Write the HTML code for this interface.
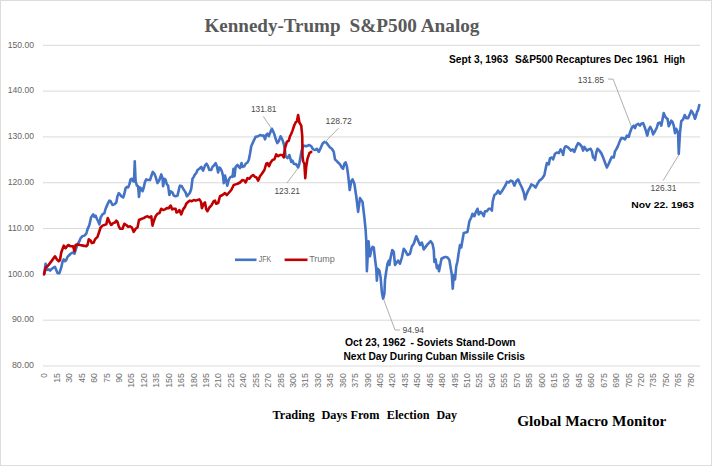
<!DOCTYPE html>
<html><head><meta charset="utf-8"><style>
html,body{margin:0;padding:0;background:#fff;}
svg{display:block;}
text{white-space:pre;}
.yl{font-family:"Liberation Sans",sans-serif;font-size:9.9px;fill:#666666;}
.ax{font-family:"Liberation Sans",sans-serif;font-size:9.7px;fill:#707070;}
.dl{font-family:"Liberation Sans",sans-serif;font-size:9px;fill:#4a4a4a;}
.title{font-family:"Liberation Serif",serif;font-weight:bold;font-size:18.9px;fill:#595959;}
.bn{font-family:"Liberation Sans",sans-serif;font-weight:bold;font-size:10px;fill:#000;}
.bn2{font-family:"Liberation Sans",sans-serif;font-weight:bold;font-size:9.6px;fill:#000;}
.sb1{font-family:"Liberation Serif",serif;font-weight:bold;font-size:13px;fill:#000;}
.sb2{font-family:"Liberation Serif",serif;font-weight:bold;font-size:15.5px;fill:#000;}
</style></head><body>
<svg width="712" height="466" viewBox="0 0 712 466">
<rect x="0.5" y="0.5" width="711" height="465" fill="#fff" stroke="#dcdcdc" stroke-width="1"/>
<line x1="43" y1="366.00" x2="700" y2="366.00" stroke="#d9d9d9" stroke-width="1"/>
<text x="34" y="368.20" text-anchor="end" class="yl" textLength="22.1" lengthAdjust="spacingAndGlyphs">80.00</text>
<line x1="43" y1="320.18" x2="700" y2="320.18" stroke="#d9d9d9" stroke-width="1"/>
<text x="34" y="322.38" text-anchor="end" class="yl" textLength="22.1" lengthAdjust="spacingAndGlyphs">90.00</text>
<line x1="43" y1="274.37" x2="700" y2="274.37" stroke="#d9d9d9" stroke-width="1"/>
<text x="34" y="276.57" text-anchor="end" class="yl" textLength="26.3" lengthAdjust="spacingAndGlyphs">100.00</text>
<line x1="43" y1="228.56" x2="700" y2="228.56" stroke="#d9d9d9" stroke-width="1"/>
<text x="34" y="230.76" text-anchor="end" class="yl" textLength="26.3" lengthAdjust="spacingAndGlyphs">110.00</text>
<line x1="43" y1="182.74" x2="700" y2="182.74" stroke="#d9d9d9" stroke-width="1"/>
<text x="34" y="184.94" text-anchor="end" class="yl" textLength="26.3" lengthAdjust="spacingAndGlyphs">120.00</text>
<line x1="43" y1="136.93" x2="700" y2="136.93" stroke="#d9d9d9" stroke-width="1"/>
<text x="34" y="139.13" text-anchor="end" class="yl" textLength="26.3" lengthAdjust="spacingAndGlyphs">130.00</text>
<line x1="43" y1="91.11" x2="700" y2="91.11" stroke="#d9d9d9" stroke-width="1"/>
<text x="34" y="93.31" text-anchor="end" class="yl" textLength="26.3" lengthAdjust="spacingAndGlyphs">140.00</text>
<line x1="43" y1="45.30" x2="700" y2="45.30" stroke="#d9d9d9" stroke-width="1"/>
<text x="34" y="47.50" text-anchor="end" class="yl" textLength="26.3" lengthAdjust="spacingAndGlyphs">150.00</text>
<text transform="translate(47.40,373.2) rotate(-90)" text-anchor="end" class="ax" textLength="4.6" lengthAdjust="spacingAndGlyphs">0</text>
<text transform="translate(59.83,373.2) rotate(-90)" text-anchor="end" class="ax" textLength="9.6" lengthAdjust="spacingAndGlyphs">15</text>
<text transform="translate(72.26,373.2) rotate(-90)" text-anchor="end" class="ax" textLength="9.6" lengthAdjust="spacingAndGlyphs">30</text>
<text transform="translate(84.69,373.2) rotate(-90)" text-anchor="end" class="ax" textLength="9.6" lengthAdjust="spacingAndGlyphs">45</text>
<text transform="translate(97.12,373.2) rotate(-90)" text-anchor="end" class="ax" textLength="9.6" lengthAdjust="spacingAndGlyphs">60</text>
<text transform="translate(109.55,373.2) rotate(-90)" text-anchor="end" class="ax" textLength="9.6" lengthAdjust="spacingAndGlyphs">75</text>
<text transform="translate(121.98,373.2) rotate(-90)" text-anchor="end" class="ax" textLength="9.6" lengthAdjust="spacingAndGlyphs">90</text>
<text transform="translate(134.41,373.2) rotate(-90)" text-anchor="end" class="ax" textLength="14.6" lengthAdjust="spacingAndGlyphs">105</text>
<text transform="translate(146.84,373.2) rotate(-90)" text-anchor="end" class="ax" textLength="14.6" lengthAdjust="spacingAndGlyphs">120</text>
<text transform="translate(159.27,373.2) rotate(-90)" text-anchor="end" class="ax" textLength="14.6" lengthAdjust="spacingAndGlyphs">135</text>
<text transform="translate(171.70,373.2) rotate(-90)" text-anchor="end" class="ax" textLength="14.6" lengthAdjust="spacingAndGlyphs">150</text>
<text transform="translate(184.13,373.2) rotate(-90)" text-anchor="end" class="ax" textLength="14.6" lengthAdjust="spacingAndGlyphs">165</text>
<text transform="translate(196.56,373.2) rotate(-90)" text-anchor="end" class="ax" textLength="14.6" lengthAdjust="spacingAndGlyphs">180</text>
<text transform="translate(208.99,373.2) rotate(-90)" text-anchor="end" class="ax" textLength="14.6" lengthAdjust="spacingAndGlyphs">195</text>
<text transform="translate(221.42,373.2) rotate(-90)" text-anchor="end" class="ax" textLength="14.6" lengthAdjust="spacingAndGlyphs">210</text>
<text transform="translate(233.85,373.2) rotate(-90)" text-anchor="end" class="ax" textLength="14.6" lengthAdjust="spacingAndGlyphs">225</text>
<text transform="translate(246.28,373.2) rotate(-90)" text-anchor="end" class="ax" textLength="14.6" lengthAdjust="spacingAndGlyphs">240</text>
<text transform="translate(258.71,373.2) rotate(-90)" text-anchor="end" class="ax" textLength="14.6" lengthAdjust="spacingAndGlyphs">255</text>
<text transform="translate(271.14,373.2) rotate(-90)" text-anchor="end" class="ax" textLength="14.6" lengthAdjust="spacingAndGlyphs">270</text>
<text transform="translate(283.57,373.2) rotate(-90)" text-anchor="end" class="ax" textLength="14.6" lengthAdjust="spacingAndGlyphs">285</text>
<text transform="translate(296.00,373.2) rotate(-90)" text-anchor="end" class="ax" textLength="14.6" lengthAdjust="spacingAndGlyphs">300</text>
<text transform="translate(308.43,373.2) rotate(-90)" text-anchor="end" class="ax" textLength="14.6" lengthAdjust="spacingAndGlyphs">315</text>
<text transform="translate(320.86,373.2) rotate(-90)" text-anchor="end" class="ax" textLength="14.6" lengthAdjust="spacingAndGlyphs">330</text>
<text transform="translate(333.29,373.2) rotate(-90)" text-anchor="end" class="ax" textLength="14.6" lengthAdjust="spacingAndGlyphs">345</text>
<text transform="translate(345.72,373.2) rotate(-90)" text-anchor="end" class="ax" textLength="14.6" lengthAdjust="spacingAndGlyphs">360</text>
<text transform="translate(358.15,373.2) rotate(-90)" text-anchor="end" class="ax" textLength="14.6" lengthAdjust="spacingAndGlyphs">375</text>
<text transform="translate(370.58,373.2) rotate(-90)" text-anchor="end" class="ax" textLength="14.6" lengthAdjust="spacingAndGlyphs">390</text>
<text transform="translate(383.01,373.2) rotate(-90)" text-anchor="end" class="ax" textLength="14.6" lengthAdjust="spacingAndGlyphs">405</text>
<text transform="translate(395.44,373.2) rotate(-90)" text-anchor="end" class="ax" textLength="14.6" lengthAdjust="spacingAndGlyphs">420</text>
<text transform="translate(407.87,373.2) rotate(-90)" text-anchor="end" class="ax" textLength="14.6" lengthAdjust="spacingAndGlyphs">435</text>
<text transform="translate(420.30,373.2) rotate(-90)" text-anchor="end" class="ax" textLength="14.6" lengthAdjust="spacingAndGlyphs">450</text>
<text transform="translate(432.73,373.2) rotate(-90)" text-anchor="end" class="ax" textLength="14.6" lengthAdjust="spacingAndGlyphs">465</text>
<text transform="translate(445.16,373.2) rotate(-90)" text-anchor="end" class="ax" textLength="14.6" lengthAdjust="spacingAndGlyphs">480</text>
<text transform="translate(457.59,373.2) rotate(-90)" text-anchor="end" class="ax" textLength="14.6" lengthAdjust="spacingAndGlyphs">495</text>
<text transform="translate(470.02,373.2) rotate(-90)" text-anchor="end" class="ax" textLength="14.6" lengthAdjust="spacingAndGlyphs">510</text>
<text transform="translate(482.45,373.2) rotate(-90)" text-anchor="end" class="ax" textLength="14.6" lengthAdjust="spacingAndGlyphs">525</text>
<text transform="translate(494.88,373.2) rotate(-90)" text-anchor="end" class="ax" textLength="14.6" lengthAdjust="spacingAndGlyphs">540</text>
<text transform="translate(507.31,373.2) rotate(-90)" text-anchor="end" class="ax" textLength="14.6" lengthAdjust="spacingAndGlyphs">555</text>
<text transform="translate(519.74,373.2) rotate(-90)" text-anchor="end" class="ax" textLength="14.6" lengthAdjust="spacingAndGlyphs">570</text>
<text transform="translate(532.17,373.2) rotate(-90)" text-anchor="end" class="ax" textLength="14.6" lengthAdjust="spacingAndGlyphs">585</text>
<text transform="translate(544.60,373.2) rotate(-90)" text-anchor="end" class="ax" textLength="14.6" lengthAdjust="spacingAndGlyphs">600</text>
<text transform="translate(557.03,373.2) rotate(-90)" text-anchor="end" class="ax" textLength="14.6" lengthAdjust="spacingAndGlyphs">615</text>
<text transform="translate(569.46,373.2) rotate(-90)" text-anchor="end" class="ax" textLength="14.6" lengthAdjust="spacingAndGlyphs">630</text>
<text transform="translate(581.89,373.2) rotate(-90)" text-anchor="end" class="ax" textLength="14.6" lengthAdjust="spacingAndGlyphs">645</text>
<text transform="translate(594.32,373.2) rotate(-90)" text-anchor="end" class="ax" textLength="14.6" lengthAdjust="spacingAndGlyphs">660</text>
<text transform="translate(606.75,373.2) rotate(-90)" text-anchor="end" class="ax" textLength="14.6" lengthAdjust="spacingAndGlyphs">675</text>
<text transform="translate(619.18,373.2) rotate(-90)" text-anchor="end" class="ax" textLength="14.6" lengthAdjust="spacingAndGlyphs">690</text>
<text transform="translate(631.61,373.2) rotate(-90)" text-anchor="end" class="ax" textLength="14.6" lengthAdjust="spacingAndGlyphs">705</text>
<text transform="translate(644.04,373.2) rotate(-90)" text-anchor="end" class="ax" textLength="14.6" lengthAdjust="spacingAndGlyphs">720</text>
<text transform="translate(656.47,373.2) rotate(-90)" text-anchor="end" class="ax" textLength="14.6" lengthAdjust="spacingAndGlyphs">735</text>
<text transform="translate(668.90,373.2) rotate(-90)" text-anchor="end" class="ax" textLength="14.6" lengthAdjust="spacingAndGlyphs">750</text>
<text transform="translate(681.33,373.2) rotate(-90)" text-anchor="end" class="ax" textLength="14.6" lengthAdjust="spacingAndGlyphs">765</text>
<text transform="translate(693.76,373.2) rotate(-90)" text-anchor="end" class="ax" textLength="14.6" lengthAdjust="spacingAndGlyphs">780</text>
<text x="204.5" y="31.5" class="title" textLength="136" lengthAdjust="spacingAndGlyphs">Kennedy-Trump</text>
<text x="349.5" y="31.5" class="title" textLength="130" lengthAdjust="spacingAndGlyphs">S&amp;P500 Analog</text>
<polyline points="44.38,273.75 45.62,263.75 46.88,270.00 48.75,269.38 50.00,270.62 51.88,268.75 53.75,267.50 55.00,266.88 56.25,270.00 57.50,273.12 59.38,273.12 61.25,267.50 62.50,261.88 63.75,259.38 65.00,261.25 66.25,260.00 67.50,256.88 69.38,255.00 70.62,253.75 72.50,252.50 74.38,253.75 75.62,250.00 77.50,244.38 79.38,241.25 80.62,238.12 82.50,236.25 84.38,235.62 86.25,233.75 87.50,229.38 89.38,225.00 91.00,217.50 93.12,214.38 94.38,216.88 95.62,215.62 96.88,218.75 98.12,221.25 99.38,224.38 100.62,217.50 102.50,214.38 104.38,213.12 105.62,208.75 107.50,204.38 109.38,200.62 110.62,201.25 112.50,205.00 114.38,204.38 116.25,202.50 117.50,196.25 118.75,193.12 120.00,194.38 121.25,196.25 123.12,197.50 124.38,193.75 125.62,188.12 126.88,186.88 128.12,187.50 129.38,184.38 130.62,179.38 131.88,178.75 133.12,181.25 134.00,181.50 134.75,161.25 135.62,181.25 136.88,185.62 138.12,186.25 139.00,196.88 140.00,187.50 141.25,188.75 142.50,191.25 143.75,187.50 145.00,181.88 146.25,179.38 148.12,180.00 150.00,180.00 151.25,176.25 152.75,171.88 154.38,173.75 155.62,176.88 157.50,183.12 159.38,180.00 161.25,174.38 162.50,178.12 163.12,186.25 164.38,178.75 165.62,180.00 166.88,184.38 168.12,185.62 169.38,195.00 170.62,191.25 172.50,192.50 173.75,195.62 175.62,196.25 177.50,195.62 179.38,187.50 180.00,185.62 181.88,186.25 183.12,188.75 184.38,190.62 185.62,192.50 186.88,196.25 188.12,195.00 190.00,192.50 191.25,188.75 192.50,178.75 193.75,176.88 195.00,174.38 196.25,173.12 197.50,170.00 199.38,168.75 201.25,166.88 203.12,170.62 205.00,165.62 206.50,163.75 207.75,165.62 209.38,170.00 211.25,170.00 212.50,166.88 214.38,165.00 215.62,163.12 216.88,166.25 218.12,172.50 219.38,167.50 220.62,168.75 221.88,171.25 223.12,176.25 223.75,183.12 225.00,175.62 226.00,179.38 227.25,185.62 228.75,180.00 230.00,177.50 231.88,176.25 232.50,176.88 233.50,168.75 234.50,176.25 235.62,166.88 237.50,165.00 238.75,166.88 240.00,168.12 241.50,163.12 242.50,166.88 244.38,166.25 245.62,163.75 247.50,162.50 248.75,160.00 250.00,153.75 251.25,146.25 253.75,140.62 255.62,136.88 258.12,136.25 260.00,135.00 261.88,135.62 263.75,135.62 265.00,139.38 266.25,135.00 267.50,133.75 268.75,136.25 270.00,133.12 271.88,128.75 273.12,131.25 274.38,134.38 275.62,138.75 277.25,143.12 278.75,141.25 280.62,136.25 282.25,139.38 283.75,143.75 284.75,148.75 285.62,156.25 287.50,158.12 289.38,155.00 291.25,161.88 292.50,160.62 293.75,163.75 296.25,164.38 298.12,167.50 299.38,163.75 300.62,156.25 301.50,151.25 303.12,145.62 306.25,146.25 309.38,145.00 311.25,146.25 313.12,149.38 315.00,150.00 316.88,148.75 318.75,151.88 320.62,148.12 322.50,143.75 324.38,141.88 326.25,142.50 328.12,145.00 330.00,147.50 331.88,148.75 333.75,151.88 335.00,159.38 336.25,160.62 338.12,162.50 340.00,164.38 341.88,167.50 343.12,168.75 344.38,163.75 345.62,162.50 346.88,166.25 348.12,175.00 349.75,190.00 351.25,181.25 352.50,179.38 354.38,183.75 356.25,196.25 358.12,211.88 360.00,198.12 362.50,201.88 364.38,217.50 365.62,230.00 366.25,240.00 366.88,271.25 368.50,241.25 370.00,256.25 371.25,250.00 372.50,246.88 373.75,247.50 375.00,258.75 376.25,268.75 376.88,280.62 377.75,268.75 379.38,270.62 380.62,277.50 381.88,292.50 383.12,298.75 384.38,293.75 385.00,280.00 386.25,271.25 387.50,263.75 388.75,260.62 389.38,265.00 390.62,257.50 392.25,250.00 393.75,251.88 395.00,265.00 396.25,263.12 398.12,260.62 400.00,263.75 401.88,257.50 403.75,248.75 405.62,251.25 407.50,255.00 410.00,253.75 411.88,246.25 413.75,243.75 416.25,236.25 418.12,240.62 420.00,245.00 421.88,242.50 423.75,249.38 425.62,246.88 427.50,244.38 430.62,241.25 432.50,243.75 433.75,250.00 434.38,261.88 435.62,259.38 436.88,268.12 438.12,265.62 439.00,271.25 440.00,266.25 441.50,258.75 443.75,257.50 445.62,256.88 447.50,257.50 449.38,260.00 450.62,267.50 451.88,275.00 452.75,288.75 453.75,275.00 455.00,279.38 456.25,266.25 457.50,261.25 458.75,252.50 460.00,245.00 461.25,247.50 462.50,240.00 463.75,233.00 467.50,231.88 469.38,221.25 471.25,217.50 472.50,213.75 474.38,216.25 475.62,212.50 477.50,208.75 478.75,214.38 480.62,211.88 482.50,213.75 483.75,216.25 485.00,211.25 486.88,211.25 488.75,208.75 490.62,208.75 491.88,210.62 492.75,201.25 494.38,195.00 496.25,193.75 498.12,190.62 500.00,193.75 501.88,191.25 503.75,188.12 505.62,185.00 506.88,181.88 508.75,182.50 510.62,180.62 512.50,181.25 514.38,185.62 516.25,181.25 518.12,179.38 520.00,183.75 521.88,187.50 523.75,192.50 525.00,199.38 526.25,195.00 528.12,190.62 530.00,187.50 531.25,184.38 533.75,185.62 535.62,187.50 537.50,183.75 539.38,180.62 541.25,179.38 542.50,178.00 544.38,175.00 545.62,168.75 546.88,163.12 548.75,164.38 550.00,158.12 551.88,157.50 553.12,159.38 555.00,153.75 556.88,152.50 558.75,153.12 560.62,149.38 562.25,151.88 563.12,155.00 564.38,148.12 565.62,146.25 567.50,146.88 569.38,148.75 571.00,150.62 572.50,149.38 574.38,151.88 576.25,146.88 578.12,143.12 580.00,144.38 581.88,146.88 583.12,150.62 584.38,146.88 585.62,148.75 586.88,150.62 588.75,149.38 590.62,148.75 591.88,151.25 593.12,157.50 594.38,157.50 595.00,160.00 596.25,152.50 597.50,148.75 599.38,150.62 601.25,153.12 603.12,157.50 605.00,162.50 606.88,167.50 608.75,163.75 610.62,159.38 611.88,156.88 613.75,157.50 615.00,151.25 616.25,149.38 618.12,145.62 620.00,140.62 621.25,138.12 623.12,138.12 625.00,139.38 626.88,135.62 628.75,136.88 630.00,132.50 631.88,127.50 633.75,125.62 635.00,128.12 636.25,125.00 638.12,123.75 640.00,125.62 641.25,123.75 643.12,123.12 644.38,126.25 645.62,130.00 647.25,135.62 648.75,129.38 650.25,126.88 651.88,130.00 653.12,134.38 655.00,131.25 656.88,127.50 658.12,123.12 660.00,122.50 661.25,125.62 662.50,119.38 663.75,113.12 665.00,116.25 666.25,118.12 667.50,118.75 668.75,126.25 670.00,123.75 671.25,120.62 672.50,121.88 673.75,125.62 675.00,133.12 676.25,128.75 677.50,131.25 678.12,133.75 678.75,153.80 680.00,132.50 681.25,121.25 683.12,119.38 684.75,115.00 686.25,118.12 688.12,118.12 690.00,113.75 691.25,110.62 692.50,112.50 693.75,115.00 695.00,118.75 696.25,115.00 697.00,112.00 698.10,110.00 699.30,105.00" fill="none" stroke="#4472c4" stroke-width="2.6" stroke-linejoin="round" stroke-linecap="round"/>
<polyline points="44.00,274.38 45.62,267.50 47.50,266.25 50.00,263.12 51.88,260.62 55.00,256.25 56.88,259.38 58.75,261.25 60.00,260.00 61.25,252.50 63.75,245.62 65.62,248.12 68.12,245.00 70.62,246.25 73.12,246.25 74.38,251.25 75.62,245.00 77.50,244.38 80.00,245.00 83.12,245.62 86.25,246.25 87.50,245.00 88.75,239.38 90.62,240.62 91.88,243.12 93.75,242.50 95.00,239.38 97.50,236.88 99.38,231.25 100.62,227.50 102.50,225.62 104.38,225.00 106.25,224.38 107.75,218.12 109.38,221.88 111.25,225.00 113.12,223.12 115.00,222.50 116.25,220.62 117.50,221.88 118.75,226.25 120.00,228.75 122.50,228.75 124.38,223.75 126.25,225.00 128.12,226.88 130.00,226.25 131.88,227.50 133.75,231.88 135.62,228.75 137.50,227.50 139.00,220.00 141.88,218.75 143.75,218.12 145.62,216.88 147.50,216.25 149.38,217.50 151.25,216.25 152.50,225.62 153.75,221.25 155.62,216.25 157.50,213.75 159.38,213.12 161.25,208.75 163.12,210.00 165.00,209.38 166.88,208.12 168.75,208.12 170.62,205.62 172.25,209.38 173.75,208.75 175.62,208.75 176.50,212.50 178.12,211.88 179.38,210.00 181.25,214.38 183.12,209.38 185.00,206.88 186.25,203.75 188.12,201.88 190.00,200.62 191.88,201.25 193.75,200.00 195.62,200.62 197.50,200.00 199.38,199.38 201.00,201.88 201.88,208.12 203.75,203.75 205.00,202.50 206.25,209.38 207.50,211.25 209.38,207.50 211.25,205.62 213.75,201.25 215.00,200.62 216.25,203.75 218.12,203.12 220.00,196.25 222.50,195.00 225.00,193.12 226.88,195.00 231.25,190.00 233.75,185.00 235.62,184.38 237.50,183.75 240.00,182.50 242.50,180.00 244.38,180.62 245.62,182.50 247.50,178.12 249.38,178.75 251.25,176.25 253.12,175.00 255.00,176.88 256.50,177.50 258.12,180.62 260.00,176.25 261.88,173.75 264.38,170.00 266.25,163.75 267.50,163.12 269.00,166.25 270.62,162.50 272.50,160.00 274.38,159.38 276.25,154.38 278.12,156.25 280.00,155.00 282.50,155.00 283.75,157.50 285.00,148.12 286.88,141.88 288.75,140.62 290.00,136.25 291.25,133.75 292.50,130.62 294.38,125.00 295.62,122.50 296.88,121.25 298.12,115.00 299.38,122.50 301.25,125.62 302.25,136.25 302.50,156.25 303.12,161.25 304.38,163.75 305.25,178.12 306.25,166.25 307.50,158.75 309.38,153.12 311.25,151.88" fill="none" stroke="#c00000" stroke-width="2.6" stroke-linejoin="round" stroke-linecap="round"/>
<line x1="235" y1="259.8" x2="256.5" y2="259.8" stroke="#4472c4" stroke-width="2.6"/>
<text x="258.8" y="261.8" class="ax" textLength="12.5" lengthAdjust="spacingAndGlyphs">JFK</text>
<line x1="284.6" y1="259.8" x2="307.5" y2="259.8" stroke="#c00000" stroke-width="2.6"/>
<text x="309.2" y="261.8" class="ax" textLength="25.6" lengthAdjust="spacingAndGlyphs">Trump</text>
<polyline points="263.25,116.4 271.35,128.3" stroke="#a6a6a6" stroke-width="0.9" fill="none"/>
<polyline points="338.75,128.1 325,141.9" stroke="#a6a6a6" stroke-width="0.9" fill="none"/>
<polyline points="286.9,183.1 298.1,168.1" stroke="#a6a6a6" stroke-width="0.9" fill="none"/>
<polyline points="608.1,79.1 613.1,79.1 631.25,126.25" stroke="#a6a6a6" stroke-width="0.9" fill="none"/>
<polyline points="678.75,155 663.1,180.6" stroke="#a6a6a6" stroke-width="0.9" fill="none"/>
<polyline points="383.5,299 395,330 400,330" stroke="#a6a6a6" stroke-width="0.9" fill="none"/>
<text x="250.9" y="112.2" class="dl" textLength="25.6" lengthAdjust="spacingAndGlyphs">131.81</text>
<text x="325.6" y="123.75" class="dl" textLength="26.3" lengthAdjust="spacingAndGlyphs">128.72</text>
<text x="274.4" y="193.75" class="dl" textLength="25.6" lengthAdjust="spacingAndGlyphs">123.21</text>
<text x="577.75" y="82.9" class="dl" textLength="26.2" lengthAdjust="spacingAndGlyphs">131.85</text>
<text x="650.6" y="191.25" class="dl" textLength="25.9" lengthAdjust="spacingAndGlyphs">126.31</text>
<text x="402.5" y="333.1" class="dl" textLength="21.5" lengthAdjust="spacingAndGlyphs">94.94</text>
<text x="449" y="62.75" class="bn" textLength="59.1" lengthAdjust="spacingAndGlyphs">Sept 3, 1963</text>
<text x="515" y="62.75" class="bn" textLength="143.1" lengthAdjust="spacingAndGlyphs">S&amp;P500 Recaptures Dec 1961</text>
<text x="664" y="62.75" class="bn" textLength="21.0" lengthAdjust="spacingAndGlyphs">High</text>
<text x="631.25" y="208.0" class="bn2" textLength="62.8" lengthAdjust="spacingAndGlyphs">Nov 22. 1963</text>
<text x="345" y="345.5" class="bn" textLength="60.6" lengthAdjust="spacingAndGlyphs">Oct 23, 1962</text>
<text x="410.6" y="345.5" class="bn" textLength="105.0" lengthAdjust="spacingAndGlyphs">- Soviets Stand-Down</text>
<text x="343.5" y="360" class="bn" textLength="181.5" lengthAdjust="spacingAndGlyphs">Next Day During Cuban Missile Crisis</text>
<text x="272.4" y="418.9" class="sb1" textLength="42.2" lengthAdjust="spacingAndGlyphs">Trading</text>
<text x="321.4" y="418.9" class="sb1" textLength="58.1" lengthAdjust="spacingAndGlyphs">Days From</text>
<text x="386.8" y="418.9" class="sb1" textLength="42.8" lengthAdjust="spacingAndGlyphs">Election</text>
<text x="436.4" y="418.9" class="sb1" textLength="20.6" lengthAdjust="spacingAndGlyphs">Day</text>
<text x="517.2" y="426.0" class="sb2" textLength="149.2" lengthAdjust="spacingAndGlyphs">Global Macro Monitor</text>
</svg>
</body></html>
